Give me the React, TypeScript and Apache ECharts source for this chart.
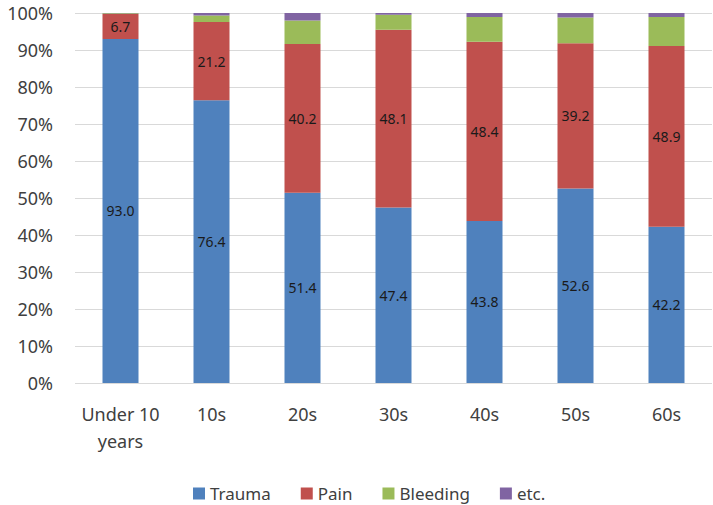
import React, { useEffect, useRef } from "react";
import * as echarts from "echarts";

const categories = ["Under 10\nyears", "10s", "20s", "30s", "40s", "50s", "60s"];
const trauma = [93.0, 76.4, 51.4, 47.4, 43.8, 52.6, 42.2];
const pain = [6.7, 21.2, 40.2, 48.1, 48.4, 39.2, 48.9];
const bleeding = [0.2, 1.7, 6.4, 4.0, 6.7, 7.0, 7.8];
const etc = [0.1, 0.7, 2.0, 0.5, 1.1, 1.2, 1.1];
const yTicks = [0, 10, 20, 30, 40, 50, 60, 70, 80, 90, 100];

const FONT = "Noto Sans";

export default function App() {
  const ref = useRef<HTMLDivElement>(null);
  useEffect(() => {
    if (!ref.current) return;
    const chart = echarts.init(ref.current, null, { renderer: "svg" });
    const label = {
      show: true,
      position: "inside",
      color: "#1a1a1a",
      fontSize: 14,
      fontFamily: FONT,
      formatter: (p: any) => Number(p.value).toFixed(1),
    };
    const mk = (name: string, data: number[], color: string, showLabel: boolean) => ({
      name,
      type: "bar",
      stack: "total",
      data,
      barWidth: 36,
      itemStyle: { color },
      label: showLabel ? label : { show: false },
      emphasis: { disabled: true },
    });
    chart.setOption({
      animation: false,
      textStyle: { fontFamily: FONT },
      grid: { left: 75, right: 1, top: 13, bottom: 122, containLabel: false },
      legend: {
        left: 188,
        top: 480,
        itemWidth: 12,
        itemHeight: 12,
        itemGap: 30,
        icon: "rect",
        textStyle: { fontSize: 17, color: "#404040", fontFamily: FONT },
        data: ["Trauma", "Pain", "Bleeding", "etc."],
      },
      xAxis: {
        type: "category",
        data: categories,
        axisLine: { show: false },
        axisTick: { show: false },
        axisLabel: {
          fontSize: 18,
          color: "#404040",
          fontFamily: FONT,
          margin: 17,
          lineHeight: 27,
          interval: 0,
        },
      },
      yAxis: {
        type: "value",
        min: yTicks[0],
        max: yTicks[yTicks.length - 1],
        interval: 10,
        axisLine: { show: false },
        axisTick: { show: false },
        splitLine: { lineStyle: { color: "#d9d9d9", width: 1 } },
        axisLabel: {
          fontSize: 18,
          color: "#404040",
          fontFamily: FONT,
          margin: 22,
          formatter: (v: number) => v + "%",
        },
      },
      series: [
        mk("Trauma", trauma, "#4f81bd", true),
        mk("Pain", pain, "#c0504d", true),
        mk("Bleeding", bleeding, "#9bbb59", false),
        mk("etc.", etc, "#8064a2", false),
      ],
    });
    return () => chart.dispose();
  }, []);
  return (
    <div
      ref={ref}
      style={{ position: "absolute", left: 0, top: 0, width: 713, height: 505 }}
    />
  );
}
